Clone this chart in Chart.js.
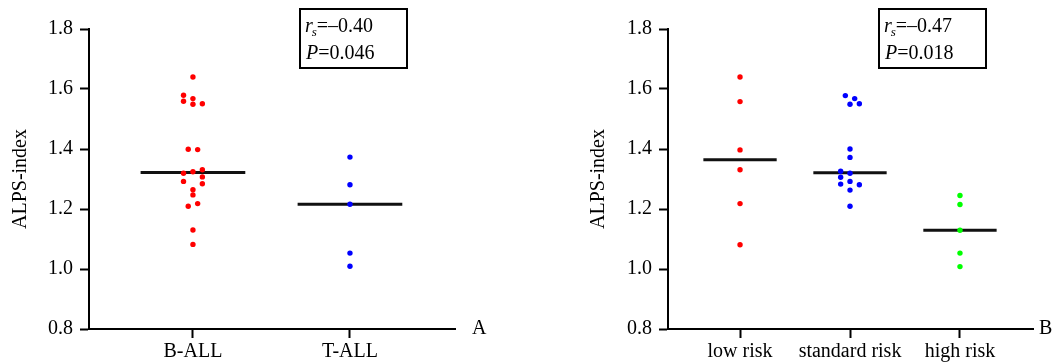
<!DOCTYPE html>
<html>
<head>
<meta charset="utf-8">
<script src="https://cdn.jsdelivr.net/npm/chart.js@4/dist/chart.umd.min.js"></script>
<style>
  html, body { margin: 0; padding: 0; background: #fff; }
  #wrap { position: relative; width: 1055px; height: 364px; overflow: hidden; }
  canvas { position: absolute; top: 0; }
</style>
</head>
<body>
<div id="wrap">
  <canvas id="chartA" width="578" height="364" style="left:0px"></canvas>
  <canvas id="chartB" width="477" height="364" style="left:578px"></canvas>
</div>
<script>
// ---------- DATA ----------
const yTicks = [0.8, 1.0, 1.2, 1.4, 1.6, 1.8];
const yTitle = 'ALPS-index';

// Panel A
const panelACategories = ['B-ALL', 'T-ALL'];
const bAllValues = [1.640, 1.579, 1.568, 1.559, 1.549, 1.551, 1.399, 1.398, 1.319, 1.324,
                    1.331, 1.307, 1.292, 1.284, 1.264, 1.247, 1.218, 1.209, 1.130, 1.082];
const bAllSlots  = [0, -2, 0, -2, 0, 2, -1, 1, -2, 0, 2, 2, -2, 2, 0, 0, 1, -1, 0, 0];
const tAllValues = [1.373, 1.281, 1.216, 1.053, 1.009];
const tAllSlots  = [0, 0, 0, 0, 0];
const panelAMedians = [1.322, 1.216];
const panelAStats = ['–0.40', '0.046'];

// Panel B
const panelBCategories = ['low risk', 'standard risk', 'high risk'];
const lowRiskValues = [1.640, 1.558, 1.397, 1.331, 1.218, 1.081];
const lowRiskSlots  = [0, 0, 0, 0, 0, 0];
const standardRiskValues = [1.578, 1.568, 1.549, 1.551, 1.400, 1.372, 1.326, 1.319,
                            1.306, 1.292, 1.283, 1.281, 1.263, 1.209];
const standardRiskSlots  = [-1, 1, 0, 2, 0, 0, -2, 0, -2, 0, -2, 2, 0, 0];
const highRiskValues = [1.245, 1.215, 1.129, 1.053, 1.008];
const highRiskSlots  = [0, 0, 0, 0, 0];
const panelBMedians = [1.364, 1.321, 1.129];
const panelBStats = ['–0.47', '0.018'];

// ---------- STYLE ----------
const FONT = '"Liberation Serif", "Times New Roman", serif';
const RED = '#ff0000', BLUE = '#0000ff', GREEN = '#00ff00';

function buildChart(canvasId, cfg) {
  const datasets = [];
  cfg.groups.forEach((g, i) => {
    datasets.push({
      type: 'scatter',
      data: g.values.map((v, k) => ({ x: i + g.slots[k] * cfg.slotUnit, y: v })),
      backgroundColor: g.color,
      borderWidth: 0,
      pointRadius: 2.7,
      pointHoverRadius: 2.7,
      order: 0
    });
  });
  cfg.medians.forEach((m, i) => {
    datasets.push({
      type: 'line',
      data: [{ x: i - 1 / 3, y: m }, { x: i + 1 / 3, y: m }],
      borderColor: '#111',
      borderWidth: 3,
      pointRadius: 0,
      fill: false,
      order: 1
    });
  });

  const overlay = {
    id: 'overlay',
    afterDraw(chart) {
      const ctx = chart.ctx;
      const ca = chart.chartArea;
      ctx.save();
      // stats box
      const bx = ca.left + 211, by = 9, bw = 107, bh = 59;
      ctx.strokeStyle = '#000';
      ctx.lineWidth = 2;
      ctx.strokeRect(bx, by, bw, bh);
      ctx.fillStyle = '#000';
      ctx.textBaseline = 'alphabetic';
      ctx.textAlign = 'left';
      let x = bx + 5;
      ctx.font = 'italic 20px ' + FONT;
      ctx.fillText('r', x, 32);
      x += ctx.measureText('r').width;
      ctx.font = 'italic 13px ' + FONT;
      ctx.fillText('s', x - 1, 36);
      x += ctx.measureText('s').width - 1;
      ctx.font = '20px ' + FONT;
      ctx.fillText('=' + cfg.stats[0], x, 32);
      x = bx + 6;
      ctx.font = 'italic 20px ' + FONT;
      ctx.fillText('P', x, 59);
      x += ctx.measureText('P').width;
      ctx.font = '20px ' + FONT;
      ctx.fillText('=' + cfg.stats[1], x, 59);
      // panel letter
      ctx.font = '20px ' + FONT;
      ctx.fillText(cfg.letter, ca.right + cfg.letterGap, 334);
      ctx.restore();
    }
  };

  return new Chart(document.getElementById(canvasId), {
    type: 'scatter',
    data: { datasets },
    plugins: [overlay],
    options: {
      responsive: false,
      devicePixelRatio: 1,
      animation: false,
      events: [],
      layout: { padding: { top: 29, right: cfg.rightPad, left: 0, bottom: 0 } },
      plugins: { legend: { display: false }, tooltip: { enabled: false } },
      scales: {
        x: {
          type: 'linear',
          min: cfg.xMin,
          max: cfg.xMax,
          afterBuildTicks: s => { s.ticks = cfg.categories.map((c, i) => ({ value: i })); },
          afterFit: s => { s.height = 35; },
          ticks: {
            autoSkip: false, maxRotation: 0, padding: 2,
            color: '#000', font: { family: FONT, size: 20 },
            callback: v => cfg.categories[v]
          },
          grid: { drawOnChartArea: false, drawTicks: true, tickLength: 9, tickColor: '#000', tickWidth: 2 },
          border: { display: true, color: '#000', width: 2 }
        },
        y: {
          type: 'linear',
          min: 0.8,
          max: 1.8,
          afterBuildTicks: s => { s.ticks = yTicks.map(v => ({ value: v })); },
          afterFit: s => { s.width = cfg.yWidth; },
          ticks: {
            padding: 7, color: '#000', font: { family: FONT, size: 20 },
            callback: v => Number(v).toFixed(1)
          },
          title: {
            display: true, text: yTitle, color: '#000',
            font: { family: FONT, size: 20 }, padding: { top: 9, bottom: 0 }
          },
          grid: { drawOnChartArea: false, drawTicks: true, tickLength: 9, tickColor: '#000', tickWidth: 2 },
          border: { display: true, color: '#000', width: 2 }
        }
      }
    }
  });
}

buildChart('chartA', {
  categories: panelACategories,
  groups: [
    { values: bAllValues, slots: bAllSlots, color: RED },
    { values: tAllValues, slots: tAllSlots, color: BLUE }
  ],
  medians: panelAMedians,
  stats: panelAStats,
  letter: 'A',
  letterGap: 17,
  xMin: -0.662, xMax: 1.669,
  slotUnit: 0.030,
  yWidth: 89,
  rightPad: 123
});

buildChart('chartB', {
  categories: panelBCategories,
  groups: [
    { values: lowRiskValues, slots: lowRiskSlots, color: RED },
    { values: standardRiskValues, slots: standardRiskSlots, color: BLUE },
    { values: highRiskValues, slots: highRiskSlots, color: GREEN }
  ],
  medians: panelBMedians,
  stats: panelBStats,
  letter: 'B',
  letterGap: 6,
  xMin: -0.655, xMax: 2.664,
  slotUnit: 0.0425,
  yWidth: 90,
  rightPad: 22
});
</script>
</body>
</html>
